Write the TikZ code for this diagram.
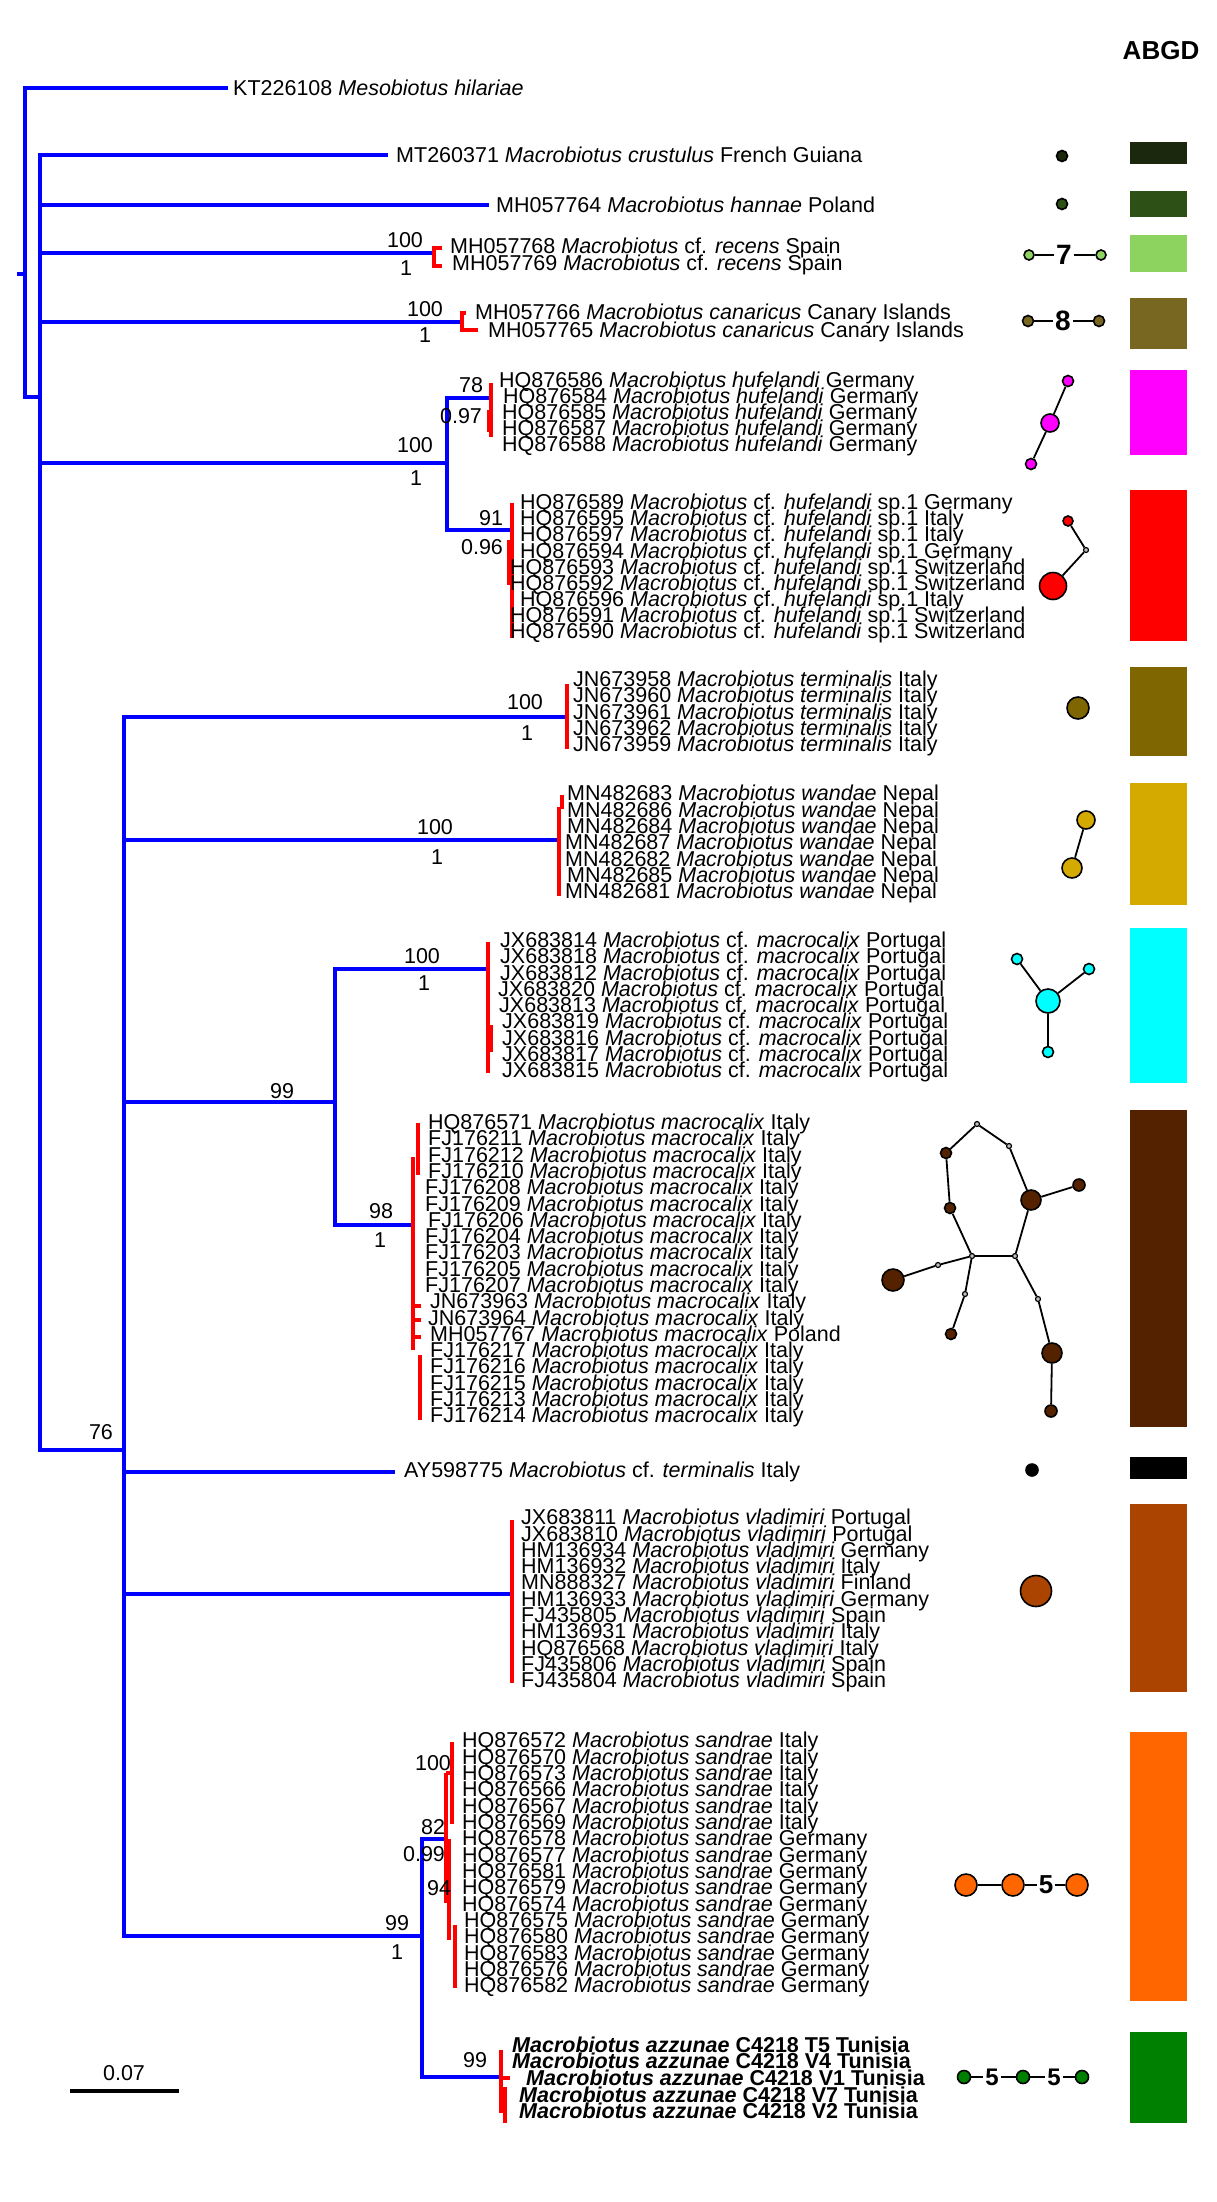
\documentclass[tikz,border=0pt]{standalone}
\usepackage{fontspec}
\setmainfont{Liberation Sans}
\usepackage{tikz}
\usetikzlibrary{positioning}

\definecolor{abgdA}{HTML}{1B280E}
\definecolor{abgdB}{HTML}{2D5016}
\definecolor{abgdC}{HTML}{8DD35F}
\definecolor{abgdD}{HTML}{786721}
\definecolor{abgdE}{HTML}{FF00FF}
\definecolor{abgdF}{HTML}{FF0000}
\definecolor{abgdG}{HTML}{806600}
\definecolor{abgdH}{HTML}{D4AA00}
\definecolor{abgdI}{HTML}{00FFFF}
\definecolor{abgdJ}{HTML}{552200}
\definecolor{abgdK}{HTML}{000000}
\definecolor{abgdL}{HTML}{AA4400}
\definecolor{abgdM}{HTML}{FF6600}
\definecolor{abgdN}{HTML}{008000}

\begin{document}
\begin{tikzpicture}[
  x=1pt, y=-1pt,
  lab/.style={anchor=west, inner sep=0pt, text height=15.4pt, text depth=0pt,
              font=\fontsize{21.5}{21.5}\selectfont},
  bs/.style={inner sep=0pt, text height=15.4pt, text depth=0pt,
             font=\fontsize{21.5}{21.5}\selectfont},
  br/.style={blue, line width=3.5pt},
  tip/.style={red, line width=3.5pt},
  hap/.style={circle, draw=black, line width=1.6pt, inner sep=0pt},
  med/.style={circle, draw=black, fill=gray!50, line width=1.2pt,
              minimum size=5pt, inner sep=0pt},
  edge/.style={black, line width=1.8pt},
  mut/.style={inner sep=2pt, font=\fontsize{28}{28}\selectfont\bfseries},
]
\useasboundingbox (0,0) rectangle (1217,2202);

%% ---- tree nodes ----
\coordinate (rootL) at (17,274);
\coordinate (root)  at (25,274);
\coordinate (mes)   at (228,88);
\coordinate (n2)    at (40,397);
\coordinate (crus)  at (388,155);
\coordinate (hann)  at (489,205);
\coordinate (rec)   at (434,253);
\coordinate (can)   at (462,322);
\coordinate (huf)   at (447,463);
\coordinate (hufA)  at (491,398);
\coordinate (hufB)  at (510,530);
\coordinate (n76)   at (124,1450);
\coordinate (term)  at (567,717);
\coordinate (wand)  at (559,840);
\coordinate (n99)   at (335,1102);
\coordinate (cfm)   at (487,969);
\coordinate (mac)   at (412,1225);
\coordinate (ay)    at (395,1472);
\coordinate (vlad)  at (512,1594);
\coordinate (nsa)   at (422,1936);
\coordinate (sand)  at (445,1839);
\coordinate (azz)   at (501,2077);

%% ---- blue backbone ----
\draw[br] (rootL) -- (root);
\foreach \a/\b in {root/mes, root/n2, n2/crus, n2/hann, n2/rec, n2/can, n2/huf,
  n2/n76, huf/hufA, huf/hufB, n76/term, n76/wand, n76/n99, n76/ay, n76/vlad,
  n76/nsa, n99/cfm, n99/mac, nsa/sand, nsa/azz}
  \draw[br] (\a) |- (\b);

%% ---- red terminal clusters ----
\draw[tip] (rec) ++(8,-5) -- ++(-8,0) -- ++(0,18) -- ++(8,0);
\draw[tip] (can) ++(4,-9) -- ++(-4,0) -- ++(0,17) -- ++(16,0);
\draw[tip] (hufA) ++(0,-15) -- ++(0,54);
\draw[tip] (hufA) ++(-2,12) -- ++(0,22);
\draw[tip] (hufB) ++(2,-27) -- ++(0,135);
\draw[tip] (hufB) ++(-1,10) -- ++(0,45);
\draw[tip] (term) ++(0,-33) -- ++(0,65);
\draw[tip] (wand) ++(3,-45) -- ++(0,14);
\draw[tip] (wand) ++(0,-33) -- ++(0,89);
\draw[tip] (cfm) ++(1,-27) -- ++(0,131);
\draw[tip] (cfm) ++(4,56) -- ++(0,27);
\draw[tip] (mac) ++(6,-102) -- ++(0,52);
\draw[tip] (mac) ++(1,-68) -- ++(0,193);
\draw[tip] (mac) ++(8,130) -- ++(0,65);
\foreach \dy in {81,95,112}
  \draw[tip] (mac) ++(1,\dy) -- ++(8,0);
\draw[tip] (vlad) ++(0,-74) -- ++(0,163);
\draw[tip] (sand) ++(1,-66) -- ++(0,130);
\draw[tip] (sand) ++(1,-66) -- ++(6,0);
\draw[tip] (sand) ++(7,-97) -- ++(0,82);
\draw[tip] (sand) ++(4,0) -- ++(0,101);
\draw[tip] (sand) ++(10,86) -- ++(0,63);
\draw[tip] (azz) ++(0,-27) -- ++(0,63);
\draw[tip] (azz) ++(0,1) -- ++(9,0);
\draw[tip] (azz) ++(4,10) -- ++(0,36);

%% ---- support values ----
\node[bs] (sRecA) at (405,240) {100};  \node[bs] (sRecB) at (406,268) {1};
\node[bs] (sCanA) at (425,309) {100};  \node[bs] (sCanB) at (425,335) {1};
\node[bs] (sHufA) at (415,445) {100};  \node[bs] (sHufB) at (416,478) {1};
\node[bs] (sHaA)  at (471,385) {78};   \node[bs] (sHaB)  at (461,416) {0.97};
\node[bs] (sHbA)  at (491,518) {91};   \node[bs] (sHbB)  at (482,547) {0.96};
\node[bs] (s76)   at (101,1432) {76};
\node[bs] (sTerA) at (525,702) {100};  \node[bs] (sTerB) at (527,733) {1};
\node[bs] (sWanA) at (435,827) {100};  \node[bs] (sWanB) at (437,857) {1};
\node[bs] (s99)   at (282,1091) {99};
\node[bs] (sCfmA) at (422,956) {100};  \node[bs] (sCfmB) at (424,983) {1};
\node[bs] (sMacA) at (381,1211) {98};  \node[bs] (sMacB) at (380,1240) {1};
\node[bs] (sNsaA) at (397,1923) {99};  \node[bs] (sNsaB) at (397,1952) {1};
\node[bs] (sSanA) at (433,1827) {82};  \node[bs] (sSanB) at (424,1854) {0.99};
\node[bs] (sSanI) at (433,1763) {100};
\node[bs] (sSanG) at (439,1888) {94};
\node[bs] (sAzz)  at (475,2060) {99};

%% ---- single tips ----
\node[lab] (mesL)  at (233,88)  {KT226108 \textit{Mesobiotus hilariae}};
\node[lab] (crusL) at (396,155) {MT260371 \textit{Macrobiotus crustulus} French Guiana};
\node[lab] (hannL) at (496,205) {MH057764 \textit{Macrobiotus hannae} Poland};
\node[lab] (recL1) at (450,246) {MH057768 \textit{Macrobiotus} cf. \textit{recens} Spain};
\node[lab] (recL2) at (452,263) {MH057769 \textit{Macrobiotus} cf. \textit{recens} Spain};
\node[lab] (canL1) at (475,312) {MH057766 \textit{Macrobiotus canaricus} Canary Islands};
\node[lab] (canL2) at (488,330) {MH057765 \textit{Macrobiotus canaricus} Canary Islands};
\node[lab] (ayL)   at (404,1470) {AY598775 \textit{Macrobiotus} cf. \textit{terminalis} Italy};

%% ---- clusters of tips ----
\foreach \lx/\acc [count=\i] in {499/HQ876586, 503/HQ876584, 502/HQ876585,
    502/HQ876587, 502/HQ876588}
  \node[lab] (hufaL\i) at (\lx,{364+16*\i}) {\acc\ \textit{Macrobiotus hufelandi} Germany};

\foreach \lx/\acc/\ctry [count=\i] in {520/HQ876589/Germany, 520/HQ876595/Italy,
    520/HQ876597/Italy, 520/HQ876594/Germany, 510/HQ876593/Switzerland,
    510/HQ876592/Switzerland, 520/HQ876596/Italy, 510/HQ876591/Switzerland,
    510/HQ876590/Switzerland}
  \node[lab] (hufbL\i) at (\lx,{485.9+16.1*\i})
    {\acc\ \textit{Macrobiotus} cf. \textit{hufelandi} sp.1 \ctry};

\foreach \acc [count=\i] in {JN673958, JN673960, JN673961, JN673962, JN673959}
  \node[lab] (terL\i) at (573,{662.75+16.25*\i}) {\acc\ \textit{Macrobiotus terminalis} Italy};

\foreach \lx/\acc [count=\i] in {567/MN482683, 567/MN482686, 567/MN482684,
    565/MN482687, 565/MN482682, 567/MN482685, 565/MN482681}
  \node[lab] (wanL\i) at (\lx,{776.67+16.33*\i}) {\acc\ \textit{Macrobiotus wandae} Nepal};

\foreach \lx/\acc [count=\i] in {500/JX683814, 500/JX683818, 500/JX683812,
    498/JX683820, 499/JX683813, 502/JX683819, 502/JX683816, 502/JX683817,
    502/JX683815}
  \node[lab] (cfmL\i) at (\lx,{923.75+16.25*\i})
    {\acc\ \textit{Macrobiotus} cf. \textit{macrocalix} Portugal};

\foreach \lx/\acc/\ctry [count=\i] in {428/HQ876571/Italy, 428/FJ176211/Italy,
    428/FJ176212/Italy, 428/FJ176210/Italy, 425/FJ176208/Italy, 425/FJ176209/Italy,
    428/FJ176206/Italy, 425/FJ176204/Italy, 425/FJ176203/Italy, 425/FJ176205/Italy,
    425/FJ176207/Italy, 430/JN673963/Italy, 428/JN673964/Italy, 430/MH057767/Poland,
    430/FJ176217/Italy, 430/FJ176216/Italy, 430/FJ176215/Italy, 430/FJ176213/Italy,
    430/FJ176214/Italy}
  \node[lab] (macL\i) at (\lx,{1105.72+16.28*\i}) {\acc\ \textit{Macrobiotus macrocalix} \ctry};

\foreach \acc/\ctry [count=\i] in {JX683811/Portugal, JX683810/Portugal,
    HM136934/Germany, HM136932/Italy, MN888327/Finland, HM136933/Germany,
    FJ435805/Spain, HM136931/Italy, HQ876568/Italy, FJ435806/Spain, FJ435804/Spain}
  \node[lab] (vlaL\i) at (521,{1500.7+16.3*\i}) {\acc\ \textit{Macrobiotus vladimiri} \ctry};

\foreach \lx/\acc/\ctry [count=\i] in {462/HQ876572/Italy, 462/HQ876570/Italy,
    462/HQ876573/Italy, 462/HQ876566/Italy, 462/HQ876567/Italy, 462/HQ876569/Italy,
    462/HQ876578/Germany, 462/HQ876577/Germany, 462/HQ876581/Germany,
    462/HQ876579/Germany, 462/HQ876574/Germany, 464/HQ876575/Germany,
    464/HQ876580/Germany, 464/HQ876583/Germany, 464/HQ876576/Germany,
    464/HQ876582/Germany}
  \node[lab] (sanL\i) at (\lx,{1723.67+16.33*\i}) {\acc\ \textit{Macrobiotus sandrae} \ctry};

\foreach \lx/\ly/\smp [count=\i] in {512/2045/T5, 512/2061/V4, 526/2078/V1,
    519/2095/V7, 519/2111/V2}
  \node[lab] (azzL\i) at (\lx,\ly) {\textbf{\textit{Macrobiotus azzunae} C4218 \smp\ Tunisia}};

%% ---- haplotype networks ----
\node[hap, fill=abgdA, minimum size=11pt] (hcru) at (1062,156) {};
\node[hap, fill=abgdB, minimum size=11pt] (hhan) at (1062,204) {};

\node[hap, fill=abgdC, minimum size=10pt] (hrec1) at (1029,255) {};
\node[mut] (hrec7) at (1064,255) {7};
\node[hap, fill=abgdC, minimum size=10pt] (hrec2) at (1101,255) {};
\draw[edge] (hrec1) -- (hrec7) -- (hrec2);

\node[hap, fill=abgdD, minimum size=11pt] (hcan1) at (1028,321) {};
\node[mut] (hcan8) at (1063,321) {8};
\node[hap, fill=abgdD, minimum size=11pt] (hcan2) at (1099,321) {};
\draw[edge] (hcan1) -- (hcan8) -- (hcan2);

\node[hap, fill=abgdE, minimum size=11pt] (hhuf1) at (1068,381) {};
\node[hap, fill=abgdE, minimum size=18pt] (hhuf2) at (1050,423) {};
\node[hap, fill=abgdE, minimum size=11pt] (hhuf3) at (1031,464) {};
\draw[edge] (hhuf1) -- (hhuf2) -- (hhuf3);

\node[hap, fill=abgdF, minimum size=10pt] (hsp1) at (1068,521) {};
\node[med] (hsp0) at (1086,550) {};
\node[hap, fill=abgdF, minimum size=27pt] (hsp2) at (1053,586) {};
\draw[edge] (hsp1) -- (hsp0) -- (hsp2);

\node[hap, fill=abgdG, minimum size=22pt] (hter) at (1078,708) {};

\node[hap, fill=abgdH, minimum size=18pt] (hwan1) at (1086,820) {};
\node[hap, fill=abgdH, minimum size=20pt] (hwan2) at (1072,868) {};
\draw[edge] (hwan1) -- (hwan2);

\node[hap, fill=abgdI, minimum size=24pt] (hcfm0) at (1048,1001) {};
\node[hap, fill=abgdI, minimum size=11pt] (hcfm1) at (1017,959) {};
\node[hap, fill=abgdI, minimum size=11pt] (hcfm2) at (1089,969) {};
\node[hap, fill=abgdI, minimum size=11pt] (hcfm3) at (1048,1052) {};
\foreach \b in {hcfm1, hcfm2, hcfm3}
  \draw[edge] (hcfm0) -- (\b);

% macrocalix network
\node[med] (hma) at (977,1124) {};
\node[med] (hmb) at (1009,1146) {};
\node[med] (hmc) at (972,1256) {};
\node[med] (hmd) at (1015,1256) {};
\node[med] (hme) at (965,1294) {};
\node[med] (hmf) at (1038,1299) {};
\node[med] (hmg) at (938,1265) {};
\node[hap, fill=abgdJ, minimum size=11pt] (hm1) at (946,1153) {};
\node[hap, fill=abgdJ, minimum size=20pt] (hm2) at (1031,1200) {};
\node[hap, fill=abgdJ, minimum size=12pt] (hm3) at (1079,1185) {};
\node[hap, fill=abgdJ, minimum size=11pt] (hm4) at (950,1208) {};
\node[hap, fill=abgdJ, minimum size=11pt] (hm5) at (951,1334) {};
\node[hap, fill=abgdJ, minimum size=20pt] (hm6) at (1052,1353) {};
\node[hap, fill=abgdJ, minimum size=12pt] (hm7) at (1051,1411) {};
\node[hap, fill=abgdJ, minimum size=22pt] (hm8) at (893,1280) {};
\foreach \a/\b in {hma/hm1, hma/hmb, hmb/hm2, hm2/hm3, hm1/hm4, hm4/hmc,
    hmc/hmd, hmd/hm2, hmc/hmg, hmg/hm8, hmc/hme, hme/hm5, hmd/hmf, hmf/hm6,
    hm6/hm7}
  \draw[edge] (\a) -- (\b);

\node[hap, fill=abgdK, minimum size=12pt] (hay) at (1032,1470) {};
\node[hap, fill=abgdL, minimum size=31pt] (hvla) at (1036,1591) {};

\node[hap, fill=abgdM, minimum size=22pt] (hsa1) at (966,1885) {};
\node[hap, fill=abgdM, minimum size=22pt] (hsa2) at (1013,1885) {};
\node[mut, font=\fontsize{26}{26}\selectfont\bfseries] (hsa5) at (1046,1885) {5};
\node[hap, fill=abgdM, minimum size=22pt] (hsa3) at (1077,1885) {};
\draw[edge] (hsa1) -- (hsa2) -- (hsa5) -- (hsa3);

\node[hap, fill=abgdN, minimum size=13pt] (haz1) at (964,2077) {};
\node[mut, font=\fontsize{24}{24}\selectfont\bfseries] (haz5a) at (992,2077) {5};
\node[hap, fill=abgdN, minimum size=13pt] (haz2) at (1023,2077) {};
\node[mut, font=\fontsize{24}{24}\selectfont\bfseries] (haz5b) at (1054,2077) {5};
\node[hap, fill=abgdN, minimum size=13pt] (haz3) at (1082,2077) {};
\draw[edge] (haz1) -- (haz5a) -- (haz2) -- (haz5b) -- (haz3);

%% ---- ABGD column ----
\node[inner sep=0pt, font=\fontsize{26}{26}\selectfont\bfseries] (abgd) at (1161,51) {ABGD};
\foreach \c/\ya/\yb in {abgdA/142/164, abgdB/191/217, abgdC/235/272,
    abgdD/298/349, abgdE/370/455, abgdF/490/641, abgdG/667/756,
    abgdH/783/905, abgdI/928/1083, abgdJ/1110/1427, abgdK/1457/1479,
    abgdL/1504/1692, abgdM/1732/2001, abgdN/2032/2123}
  \fill[\c] (1130,\ya) rectangle (1187,\yb);

%% ---- scale bar ----
\coordinate (sbL) at (70,2091);
\coordinate (sbR) at (179,2091);
\draw[line width=4pt] (sbL) -- (sbR);
\node[bs] (sbT) at (124,2073) {0.07};

\end{tikzpicture}
\end{document}
